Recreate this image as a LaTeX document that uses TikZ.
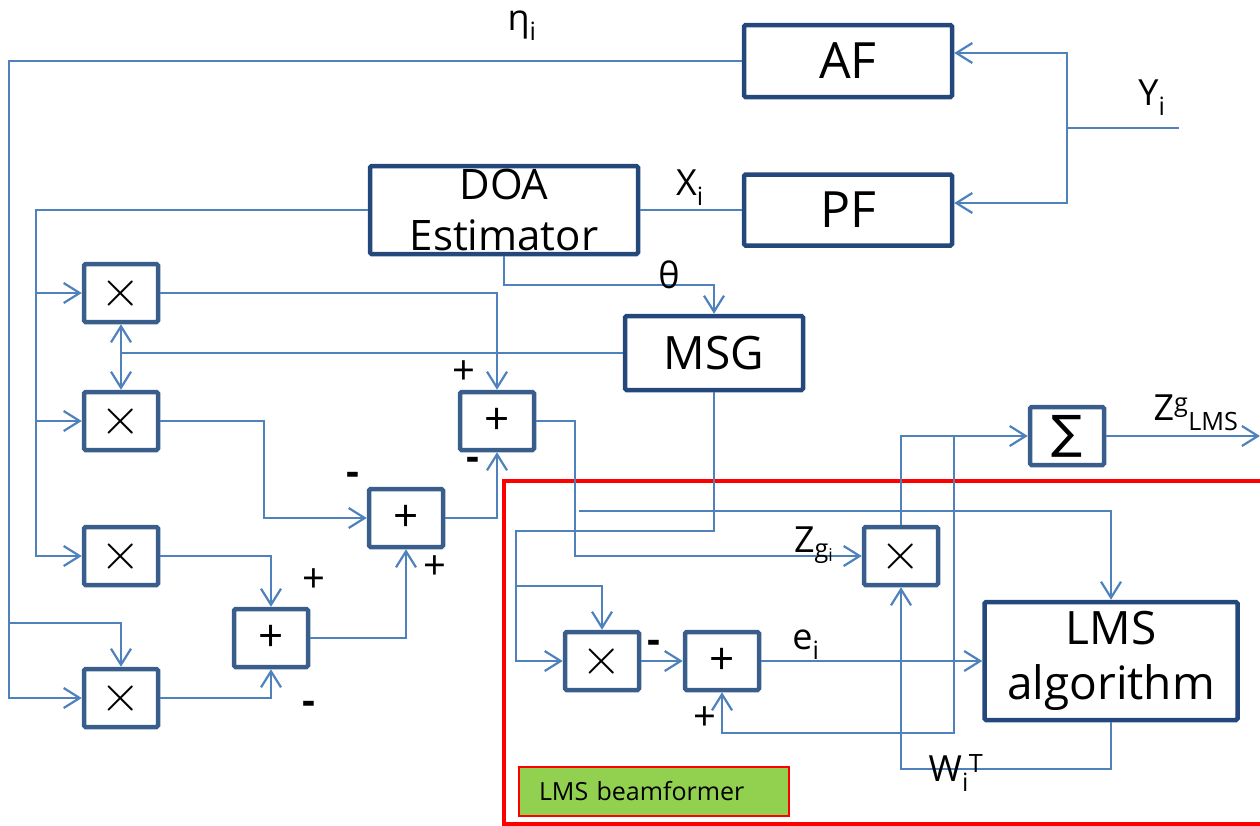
\documentclass[tikz,border=0pt]{standalone}
\usepackage{graphicx}
\usepackage{fontspec}
\setmainfont{Open Sans}
\newfontfamily\symfont{DejaVu Sans}
\usetikzlibrary{arrows.meta}
\definecolor{wireblue}{HTML}{4F81BD}
\definecolor{boxdark}{HTML}{24487C}
\definecolor{boxmid}{HTML}{3A5E8C}
\definecolor{tagred}{HTML}{FF0000}
\definecolor{taggreen}{HTML}{92D050}
\newcommand{\fsz}[2]{\fontsize{#1}{#2}\selectfont}
\newcommand{\mulsign}{\scalebox{5.2}{$\times$}}
\tikzset{
   blk/.style={draw=boxdark, fill=white, line width=4.5pt, inner sep=0pt,
      rounded corners=1.5pt, align=center},
   op/.style={draw=boxmid, fill=white, line width=4.5pt, inner sep=0pt,
      rounded corners=1.5pt, minimum width=74pt, minimum height=58pt},
   mul/.style={op},
   add/.style={op, font=\fsz{44}{44}},
   wire/.style={draw=wireblue, line width=2.2pt},
   arr/.style={wire, ->},
   dbl/.style={wire, <->},
   lbl/.style={inner sep=0pt, font=\fsz{36}{40}},
   sgn/.style={inner sep=0pt, font=\fsz{40}{40}},
    }

\begin{document}
\begin{tikzpicture}
        [x=1pt,y=-1pt,>={Straight Barb[length=16pt,width=20pt]}]
        \useasboundingbox (0,0) rectangle (1260,825);
        % beamformer frame
        \draw[tagred, line width=4.5pt] (504,481) rectangle (1275,824);
        \node[draw=tagred, line width=1.5pt, fill=taggreen, text width=230pt,
           inner xsep=20pt, inner ysep=0pt, minimum height=49pt, align=left,
           font=\fsz{25}{28}] (tag) at (654,791.5) {LMS beamformer};

        % blocks
        \node[blk, minimum width=208pt, minimum height=72pt, font=\fsz{50}{56}] (af) at (848,61) {AF};
        \node[blk, minimum width=208pt, minimum height=71pt, font=\fsz{50}{56}] (pf) at (848,210) {PF};
        \node[blk, minimum width=268pt, minimum height=88pt, font=\fsz{42}{51}] (doa) at (504,210) {DOA\\Estimator};
        \node[blk, minimum width=178pt, minimum height=74pt, font=\fsz{46}{52}] (msg) at (714,353) {MSG};
        \node[blk, minimum width=253pt, minimum height=118pt, font=\fsz{46}{55}] (lms) at (1111,661) {LMS\\algorithm};
        \node[op] (sig) at (1067,436) {\symfont\fsz{46}{46}∑};

        \node[mul] (m1) at (121,293) {\mulsign};
        \node[mul] (m2) at (121,421) {\mulsign};
        \node[mul] (m3) at (121,556) {\mulsign};
        \node[mul] (m4) at (121,698) {\mulsign};
        \node[mul] (mz) at (901,556) {\mulsign};
        \node[mul] (ml) at (602,661) {\mulsign};
        \node[add] (s1) at (497,421) {+};
        \node[add] (s2) at (406,518) {+};
        \node[add] (s3) at (271,638) {+};
        \node[add] (sl) at (722,661) {+};

        % feedback from AF
        \coordinate (fbk) at (9,623);
        \draw[arr] (af.west) -| (fbk) |- (m4.west);
        \draw[arr] (fbk) -| (m4.north);
        % DOA to the multipliers
        \coordinate (dbus) at (36,556);
        \draw[arr] (doa.west) -| (dbus) -- (m3.west);
        \draw[arr] (dbus |- m1.west) -- (m1.west);
        \draw[arr] (dbus |- m2.west) -- (m2.west);
        \draw[wire] (doa.east) -- (pf.west);
        % input
        \coordinate (yin) at (1179,128);
        \coordinate (ysp) at (1067,128);
        \draw[wire] (yin) -- (ysp);
        \draw[arr] (ysp) |- ([yshift=8pt]af.east);
        \draw[arr] (ysp) |- ([yshift=7pt]pf.east);
        \draw[arr] (doa.south) -- ++(0,29) -| (msg.north);
        % MSG to the multipliers
        \draw[wire] (msg.west) -- (m1.south |- msg.west);
        \draw[dbl] (m1.south) -- (m2.north);
        % adders
        \draw[arr] (m1.east) -| (s1.north);
        \draw[arr] (m2.east) -- ++(104,0) |- (s2.west);
        \draw[arr] (m3.east) -| (s3.north);
        \draw[arr] (m4.east) -| (s3.south);
        \draw[arr] (s3.east) -| (s2.south);
        \draw[arr] (s2.east) -| (s1.south);
        % LMS part
        \draw[arr] (s1.east) -- ++(39,0) |- (mz.west);
        \coordinate (tap) at (579,511);
        \draw[arr] (tap) -| (lms.north);
        \coordinate (lbus) at (516,586);
        \draw[arr] (msg.south) -- ++(0,139) -| (lbus) |- (ml.west);
        \draw[arr] (lbus) -| (ml.north);
        \draw[arr] (ml.east) -- (sl.west);
        \draw[arr] (sl.east) -- (lms.west);
        \draw[arr] (lms.south) -- ++(0,47) -| (mz.south);
        \draw[arr] (mz.north) |- (sig.west);
        \coordinate (jn) at (954,436);
        \draw[arr] (jn) -- ++(0,297) -| (sl.south);
        \coordinate (zout) at (1260,436);
        \draw[arr] (sig.east) -- (zout);

        % labels
        \node[lbl] (eta) at (522,26) {η\textsubscript{i}};
        \node[lbl] (xi) at (690,188) {X\textsubscript{i}};
        \node[lbl] (yi) at (1152,98) {Y\textsubscript{i}};
        \node[lbl] (th) at (669,275) {θ};
        \node[lbl] (zl) at (1196,413) {Z\textsuperscript{g}\textsubscript{LMS}};
        \node[lbl] (zg) at (814,545) {Z\textsubscript{g\textsubscript{i}}};
        \node[lbl] (ei) at (806,645) {e\textsubscript{i}};
        \node[lbl] (wi) at (956,773) {W\textsubscript{i}\textsuperscript{T}};
        \node[sgn] (p1) at (464,373) {+};
        \node[sgn] (n1) at (473,464) {\textbf{-}};
        \node[sgn] (n2) at (353,479) {\textbf{-}};
        \node[sgn] (p2) at (435,568) {+};
        \node[sgn] (p3) at (314,581) {+};
        \node[sgn] (n3) at (309,708) {\textbf{-}};
        \node[sgn] (n4) at (654,647) {\textbf{-}};
        \node[sgn] (p4) at (705,719) {+};
\end{tikzpicture}
\end{document}
